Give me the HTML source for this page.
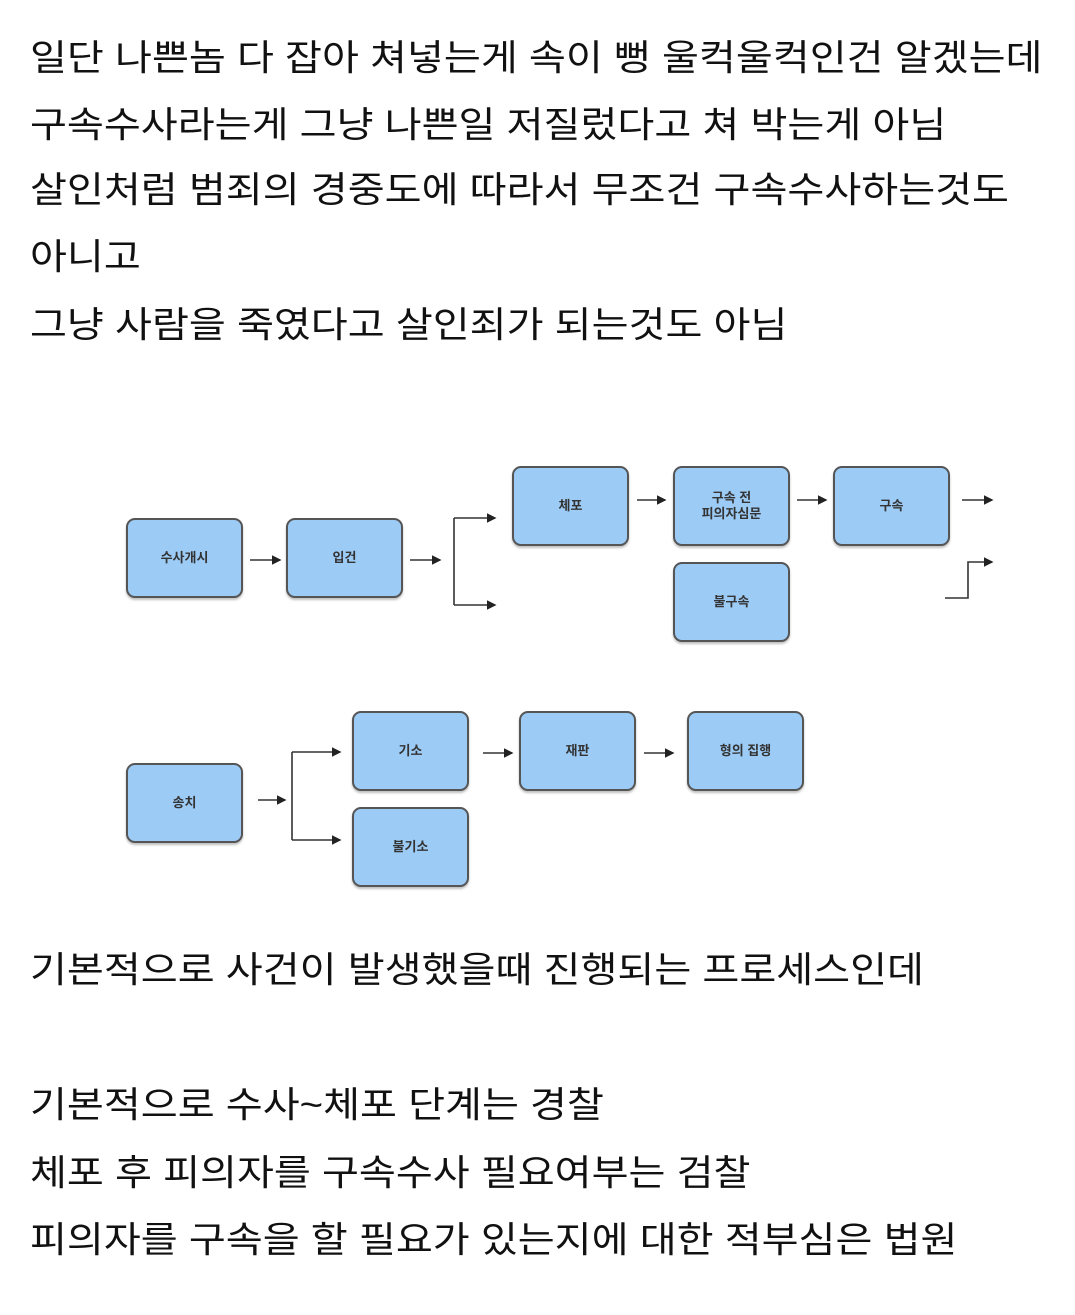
<!DOCTYPE html>
<html><head><meta charset="utf-8"><style>
body{margin:0;width:1075px;height:1315px;background:#fff;position:relative;overflow:hidden;font-family:"Liberation Sans","Noto Sans CJK KR",sans-serif;}
.t{position:absolute;left:30px;font-size:36px;color:#111;white-space:nowrap;line-height:1;transform:scaleX(1.115);transform-origin:0 0;}
.b{position:absolute;width:113px;height:76px;background:#9ccbf6;border:2px solid #555;border-radius:9px;display:flex;align-items:center;justify-content:center;text-align:center;font-size:13px;font-weight:bold;color:#333;line-height:1.25;box-shadow:0 2px 2px rgba(0,0,0,.25);}
svg{position:absolute;left:0;top:0;}
</style></head><body>
<div class="t" style="top:40px">일단 나쁜놈 다 잡아 쳐넣는게 속이 뻥 울컥울컥인건 알겠는데</div>
<div class="t" style="top:107px">구속수사라는게 그냥 나쁜일 저질렀다고 쳐 박는게 아님</div>
<div class="t" style="top:172px">살인처럼 범죄의 경중도에 따라서 무조건 구속수사하는것도</div>
<div class="t" style="top:239px">아니고</div>
<div class="t" style="top:307px">그냥 사람을 죽였다고 살인죄가 되는것도 아님</div>

<div class="b" style="left:126px;top:518px">수사개시</div>
<div class="b" style="left:286px;top:518px">입건</div>
<div class="b" style="left:512px;top:466px">체포</div>
<div class="b" style="left:673px;top:466px">구속 전<br>피의자심문</div>
<div class="b" style="left:833px;top:466px">구속</div>
<div class="b" style="left:673px;top:562px">불구속</div>
<div class="b" style="left:126px;top:763px">송치</div>
<div class="b" style="left:352px;top:711px">기소</div>
<div class="b" style="left:352px;top:807px">불기소</div>
<div class="b" style="left:519px;top:711px">재판</div>
<div class="b" style="left:687px;top:711px">형의 집행</div>

<svg width="1075" height="1315">
<defs><marker id="a" markerWidth="6" markerHeight="6" refX="5" refY="3" orient="auto"><path d="M0,0L6,3L0,6z" fill="#222"/></marker></defs>
<g stroke="#333" stroke-width="1.6" fill="none" marker-end="url(#a)">
<path d="M250 560H280"/><path d="M410 560H440"/>
<path d="M454 518H495"/><path d="M454 605H495"/>
<path d="M637 500H665"/><path d="M797 500H826"/><path d="M962 500H992"/>
<path d="M945 598H968V562H992"/>
<path d="M258 800H285"/>
<path d="M292 752H340"/><path d="M292 840H340"/>
<path d="M483 753H512"/><path d="M644 753H673"/>
</g>
<path d="M454 518V605M292 752V840" stroke="#333" stroke-width="1.6"/>
</svg>

<div class="t" style="top:952px">기본적으로 사건이 발생했을때 진행되는 프로세스인데</div>
<div class="t" style="top:1087px">기본적으로 수사~체포 단계는 경찰</div>
<div class="t" style="top:1155px">체포 후 피의자를 구속수사 필요여부는 검찰</div>
<div class="t" style="top:1222px">피의자를 구속을 할 필요가 있는지에 대한 적부심은 법원</div>
</body></html>
